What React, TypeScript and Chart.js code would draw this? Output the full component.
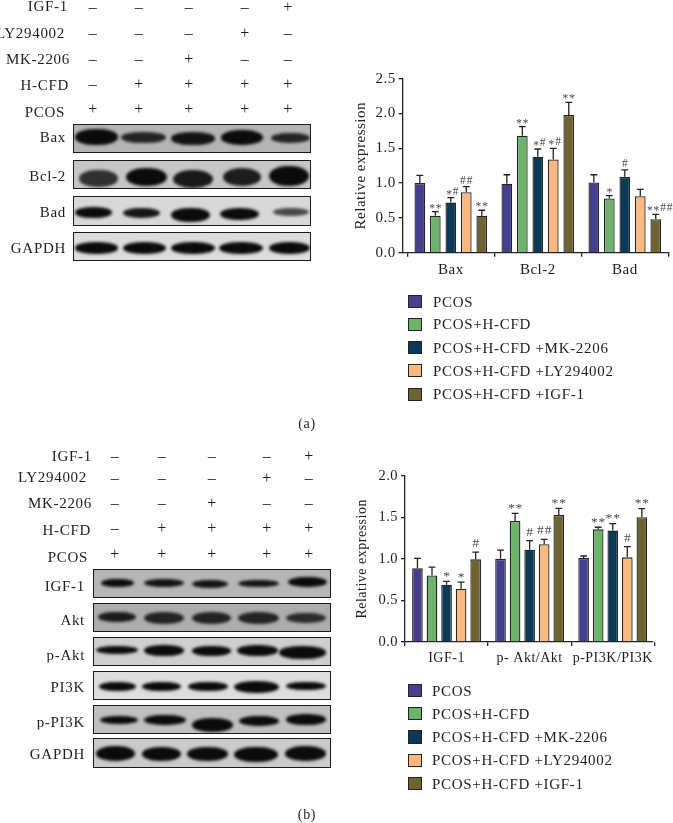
import React, { useEffect, useRef } from "react";
import { Chart, registerables } from "chart.js";

Chart.register(...registerables);

const seriesNames = ["PCOS", "PCOS+H-CFD", "PCOS+H-CFD +MK-2206", "PCOS+H-CFD +LY294002", "PCOS+H-CFD +IGF-1"];
const seriesColors = ["#443f8e", "#6db36c", "#0a3a57", "#fcb97f", "#6f6331"];

const categoriesA = ["Bax", "Bcl-2", "Bad"];
const pcosA = [1.0, 0.99, 1.01];
const hcfdA = [0.53, 1.68, 0.78];
const mkA = [0.72, 1.38, 1.09];
const lyA = [0.87, 1.34, 0.81];
const igfA = [0.53, 1.98, 0.48];
const pcosTopA = [1.11, 1.12, 1.12];
const hcfdTopA = [0.59, 1.81, 0.82];
const mkTopA = [0.79, 1.49, 1.19];
const lyTopA = [0.95, 1.5, 0.91];
const igfTopA = [0.61, 2.16, 0.55];
const pcosMarkA = ["", "", ""];
const hcfdMarkA = ["**", "**", "*"];
const mkMarkA = ["*#", "*#", "#"];
const lyMarkA = ["##", "*#", ""];
const igfMarkA = ["**", "**", "**##"];

const categoriesB = ["IGF-1", "p- Akt/Akt", "p-PI3K/PI3K"];
const pcosB = [0.886, 1.0, 1.01];
const hcfdB = [0.8, 1.455, 1.355];
const mkB = [0.69, 1.11, 1.34];
const lyB = [0.64, 1.175, 1.018];
const igfB = [0.994, 1.527, 1.5];
const pcosTopB = [1.006, 1.106, 1.034];
const hcfdTopB = [0.9, 1.547, 1.38];
const mkTopB = [0.73, 1.22, 1.423];
const lyTopB = [0.72, 1.234, 1.146];
const igfTopB = [1.08, 1.607, 1.603];
const pcosMarkB = ["", "", ""];
const hcfdMarkB = ["", "**", "**"];
const mkMarkB = ["*", "#", "**"];
const lyMarkB = ["*", "##", "#"];
const igfMarkB = ["#", "**", "**"];

const treatmentRows = ["IGF-1", "LY294002", "MK-2206", "H-CFD", "PCOS"];
const treatmentMarks = [
  ["–", "–", "–", "–", "+"],
  ["–", "–", "–", "+", "–"],
  ["–", "–", "+", "–", "–"],
  ["–", "+", "+", "+", "+"],
  ["+", "+", "+", "+", "+"],
];

const SERIF = '"Liberation Serif", serif';
const INK = "#232323";
const TEXT = "#1e1e1e";

type Band = [number, number, number, number, number];
type BlotDef = { name: string; labelY: number; y1: number; y2: number; bg: string; bands: Band[] };

// x1, x2, centre y, height, opacity: in units of one third of a pixel
const blotsA: BlotDef[] = [
  { name: "Bax", labelY: 410, y1: 371, y2: 460, bg: "#b4b4b4", bands: [
    [222, 350, 408, 46, 1], [360, 495, 410, 34, 0.85], [510, 642, 412, 38, 0.95], [660, 785, 410, 44, 1], [810, 928, 410, 30, 0.85] ] },
  { name: "Bcl-2", labelY: 527, y1: 480, y2: 568, bg: "#c6c6c6", bands: [
    [235, 350, 533, 52, 0.8], [375, 497, 528, 56, 1], [515, 637, 534, 54, 0.92], [665, 780, 528, 54, 0.9], [805, 925, 526, 60, 1] ] },
  { name: "Bad", labelY: 635, y1: 587, y2: 678, bg: "#d8d8d8", bands: [
    [222, 334, 634, 32, 1], [365, 478, 635, 30, 0.95], [510, 627, 642, 44, 1], [658, 775, 638, 36, 1], [815, 925, 634, 24, 0.7] ] },
  { name: "GAPDH", labelY: 745, y1: 695, y2: 783, bg: "#dcdcdc", bands: [
    [222, 350, 741, 34, 1], [365, 495, 741, 36, 1], [510, 642, 741, 36, 1], [655, 787, 741, 36, 1], [805, 928, 741, 36, 1] ] },
];

const blotsB: BlotDef[] = [
  { name: "IGF-1", labelY: 438, y1: 388, y2: 474, bg: "#b6b6b6", bands: [
    [300, 400, 426, 26, 1], [430, 548, 427, 24, 0.95], [572, 680, 428, 24, 0.95], [712, 835, 427, 21, 0.95], [860, 977, 423, 30, 1] ] },
  { name: "Akt", labelY: 541, y1: 488, y2: 576, bg: "#adadad", bands: [
    [290, 405, 528, 32, 0.9], [430, 548, 530, 36, 0.85], [572, 690, 530, 36, 0.85], [712, 835, 530, 36, 0.85], [855, 975, 530, 30, 0.8] ] },
  { name: "p-Akt", labelY: 645, y1: 591, y2: 678, bg: "#cfcfcf", bands: [
    [285, 410, 627, 24, 1], [430, 550, 628, 32, 1], [572, 690, 630, 28, 1], [707, 830, 629, 32, 1], [835, 975, 634, 38, 1] ] },
  { name: "PI3K", labelY: 742, y1: 692, y2: 780, bg: "#dedede", bands: [
    [295, 405, 736, 27, 1], [422, 540, 736, 28, 1], [560, 680, 736, 28, 1], [700, 835, 738, 36, 1], [855, 975, 735, 26, 1] ] },
  { name: "p-PI3K", labelY: 845, y1: 795, y2: 882, bg: "#bfbfbf", bands: [
    [298, 412, 837, 24, 1], [430, 555, 837, 30, 1], [572, 695, 852, 40, 1], [715, 835, 840, 30, 1], [855, 975, 836, 32, 1] ] },
  { name: "GAPDH", labelY: 942, y1: 895, y2: 985, bg: "#cbcbcb", bands: [
    [285, 402, 937, 44, 1], [422, 540, 938, 42, 1], [558, 680, 938, 42, 1], [700, 830, 940, 46, 1], [852, 975, 938, 44, 1] ] },
];

type PanelConfig = {
  left: number; top: number; width: number; height: number;
  areaLeft: number; areaRight: number; areaTop: number; areaBottom: number;
  axisLeftExt: number; axisRightTrim: number;
  categories: string[]; values: number[][]; tops: number[][]; marks: string[][];
  yMax: number; tickFont: number; xFont: number; titleFont: number; titlePad: number;
  catPct: number; barPct: number; markFont: number; markPitch: number; hashGap: number; starGap: number;
};

const panelA: PanelConfig = {
  left: 340, top: 60, width: 333, height: 240,
  areaLeft: 67.3, areaRight: 328.3, areaTop: 18.7, areaBottom: 192.7,
  axisLeftExt: 4.67, axisRightTrim: 0,
  categories: categoriesA,
  values: [pcosA, hcfdA, mkA, lyA, igfA],
  tops: [pcosTopA, hcfdTopA, mkTopA, lyTopA, igfTopA],
  marks: [pcosMarkA, hcfdMarkA, mkMarkA, lyMarkA, igfMarkA],
  yMax: 2.5, tickFont: 15, xFont: 15, titleFont: 15, titlePad: 17,
  catPct: 0.89, barPct: 0.69, markFont: 11.5, markPitch: 6.6, hashGap: 3, starGap: 3,
};

const panelB: PanelConfig = {
  left: 340, top: 450, width: 333, height: 240,
  areaLeft: 65, areaRight: 314.3, areaTop: 25.7, areaBottom: 192,
  axisLeftExt: 0, axisRightTrim: 2,
  categories: categoriesB,
  values: [pcosB, hcfdB, mkB, lyB, igfB],
  tops: [pcosTopB, hcfdTopB, mkTopB, lyTopB, igfTopB],
  marks: [pcosMarkB, hcfdMarkB, mkMarkB, lyMarkB, igfMarkB],
  yMax: 2.0, tickFont: 14.5, xFont: 14, titleFont: 14, titlePad: 14,
  catPct: 0.876, barPct: 0.73, markFont: 13.5, markPitch: 7.6, hashGap: 5, starGap: 5,
};

function PanelChart({ cfg }: { cfg: PanelConfig }) {
  const ref = useRef<HTMLCanvasElement | null>(null);
  useEffect(() => {
    if (!ref.current) return;
    const panelPlugin = {
      id: "panelExtras",
      afterLayout(chart: any) {
        const x = chart.scales.x;
        const y = chart.scales.y;
        y.left -= cfg.axisLeftExt;
        y.right -= cfg.axisLeftExt;
        x.left -= cfg.axisLeftExt;
        x.right -= cfg.axisRightTrim;
      },
      beforeDraw(chart: any) {
        chart.ctx.letterSpacing = "0.5px";
      },
      afterDatasetsDraw(chart: any) {
        const ctx = chart.ctx;
        const y = chart.scales.y;
        ctx.save();
        ctx.letterSpacing = "0px";
        ctx.strokeStyle = INK;
        ctx.lineWidth = 1.3;
        cfg.tops.forEach((tops, s) => {
          const meta = chart.getDatasetMeta(s);
          tops.forEach((top, i) => {
            const bar = meta.data[i];
            const py = y.getPixelForValue(top);
            ctx.beginPath();
            ctx.moveTo(bar.x, bar.y);
            ctx.lineTo(bar.x, py);
            ctx.moveTo(bar.x - 3.4, py);
            ctx.lineTo(bar.x + 3.4, py);
            ctx.stroke();
            const text = cfg.marks[s][i];
            if (!text) return;
            ctx.fillStyle = "#4a4a4a";
            ctx.font = `${cfg.markFont}px ${SERIF}`;
            ctx.textAlign = "center";
            ctx.textBaseline = "alphabetic";
            const shift = text.length > 2 ? 4 : text === "*#" ? 1.5 : 0;
            const startX = bar.x + shift - ((text.length - 1) * cfg.markPitch) / 2;
            Array.from(text).forEach((ch, k) => {
              const base = ch === "*" ? py - cfg.starGap + cfg.markFont * 0.26 : py - cfg.hashGap;
              ctx.fillText(ch, startX + k * cfg.markPitch, base);
            });
          });
        });
        ctx.restore();
      },
    };
    const chart = new Chart(ref.current, {
      type: "bar",
      data: {
        labels: cfg.categories,
        datasets: cfg.values.map((data, i) => ({
          label: seriesNames[i],
          data,
          backgroundColor: seriesColors[i],
          borderColor: INK,
          borderWidth: 1.3,
          categoryPercentage: cfg.catPct,
          barPercentage: cfg.barPct,
        })),
      },
      options: {
        animation: false,
        responsive: false,
        maintainAspectRatio: false,
        layout: {
          padding: { left: 0, top: cfg.areaTop, right: cfg.width - cfg.areaRight, bottom: 0 },
        },
        plugins: { legend: { display: false }, tooltip: { enabled: false }, title: { display: false } },
        scales: {
          x: {
            afterFit(scale: any) { scale.height = cfg.height - cfg.areaBottom; },
            grid: { drawOnChartArea: false, tickLength: 4, color: INK, lineWidth: 1.3 },
            border: { color: INK, width: 1.3 },
            ticks: { color: TEXT, font: { family: SERIF, size: cfg.xFont }, padding: 4, maxRotation: 0, autoSkip: false },
          },
          y: {
            min: 0,
            max: cfg.yMax,
            afterFit(scale: any) { scale.width = cfg.areaLeft; },
            grid: { drawOnChartArea: false, tickLength: 4, color: INK, lineWidth: 1.3 },
            border: { color: INK, width: 1.3 },
            ticks: {
              stepSize: 0.5,
              color: TEXT,
              font: { family: SERIF, size: cfg.tickFont },
              padding: 3,
              callback: (v: any) => Number(v).toFixed(1),
            },
            title: {
              display: true,
              text: "Relative expression",
              color: TEXT,
              font: { family: SERIF, size: cfg.titleFont },
              padding: { top: cfg.titlePad, bottom: 0 },
            },
          },
        },
      },
      plugins: [panelPlugin],
    } as any);
    return () => chart.destroy();
  }, [cfg]);
  return (
    <canvas
      ref={ref}
      width={cfg.width}
      height={cfg.height}
      style={{ position: "absolute", left: cfg.left, top: cfg.top, width: cfg.width, height: cfg.height }}
    />
  );
}

function Txt({ x, y, text, align = "right", size = 15 }: { x: number; y: number; text: string; align?: string; size?: number }) {
  const tx = align === "right" ? "-100%" : align === "center" ? "-50%" : "0";
  return (
    <div
      style={{
        position: "absolute", left: x, top: y, transform: `translate(${tx},-50%)`, willChange: "transform",
        font: `${size}px/1 ${SERIF}`, letterSpacing: "0.7px", color: TEXT, whiteSpace: "nowrap",
      }}
    >
      {text}
    </div>
  );
}

function Blot({ def, x1, x2, labelRight, offsetY }: { def: BlotDef; x1: number; x2: number; labelRight: number; offsetY: number }) {
  const top = offsetY + def.y1 / 3;
  const h = (def.y2 - def.y1) / 3;
  return (
    <>
      <Txt x={labelRight} y={offsetY + def.labelY / 3} text={def.name} />
      <div
        style={{
          position: "absolute", left: x1, top, width: x2 - x1, height: h, boxSizing: "border-box",
          border: "1px solid #1a1a1a", background: def.bg, overflow: "hidden",
        }}
      >
        {def.bands.map((b, i) => (
          <div
            key={i}
            style={{
              position: "absolute",
              left: b[0] / 3 - x1,
              top: (b[2] - b[3] / 2) / 3 + offsetY - top,
              width: (b[1] - b[0]) / 3,
              height: b[3] / 3,
              background: "#0b0b0b",
              opacity: b[4],
              borderRadius: "45% / 50%",
              filter: "blur(1.7px)",
            }}
          />
        ))}
      </div>
    </>
  );
}

function Legend({ swatchX, textX, ys }: { swatchX: number; textX: number; ys: number[] }) {
  return (
    <>
      {seriesNames.map((name, i) => (
        <React.Fragment key={name}>
          <div
            style={{
              position: "absolute", left: swatchX, top: ys[i] - 6.7, width: 13.4, height: 13.4, boxSizing: "border-box",
              background: seriesColors[i], border: `1.3px solid ${INK}`,
            }}
          />
          <Txt x={textX} y={ys[i]} text={name} align="left" size={15} />
        </React.Fragment>
      ))}
    </>
  );
}

function Treatments({ labelX, labelY, markX, markY }: { labelX: number[]; labelY: number[]; markX: number[]; markY: number[] }) {
  return (
    <>
      {treatmentRows.map((name, r) => (
        <React.Fragment key={name}>
          <Txt x={labelX[r]} y={labelY[r]} text={name} />
          {treatmentMarks[r].map((m, c) => (
            <Txt key={c} x={markX[c]} y={markY[r]} text={m} align="center" size={16} />
          ))}
        </React.Fragment>
      ))}
    </>
  );
}

export default function App() {
  return (
    <div style={{ position: "absolute", left: 0, top: 0, width: 673, height: 823, background: "#fff", overflow: "hidden" }}>
      <Treatments
        labelX={[68, 65, 70, 69, 65]}
        labelY={[6, 32.7, 59.3, 85, 111.7]}
        markX={[92.7, 139.3, 189.3, 245.3, 287.7]}
        markY={[6.7, 32.7, 59.3, 84, 108.7]}
      />
      {blotsA.map((d) => (
        <Blot key={d.name} def={d} x1={72.7} x2={311} labelRight={66} offsetY={0} />
      ))}
      <PanelChart cfg={panelA} />
      <Legend swatchX={408.3} textX={432.7} ys={[301.7, 324.3, 347.7, 370.7, 394.3]} />
      <Txt x={307} y={424} text="(a)" align="center" size={14} />

      <Treatments
        labelX={[91.7, 87.3, 91.7, 91, 87.7]}
        labelY={[456, 477.3, 503.3, 530, 556.7]}
        markX={[115, 161.7, 211.7, 266.7, 309.3]}
        markY={[456, 478.3, 503.3, 528.3, 554]}
      />
      {blotsB.map((d) => (
        <Blot key={d.name} def={d} x1={92.7} x2={330.7} labelRight={85} offsetY={440} />
      ))}
      <PanelChart cfg={panelB} />
      <Legend swatchX={408.3} textX={431.7} ys={[690.7, 713.7, 737, 760.3, 783.7]} />
      <Txt x={307} y={815} text="(b)" align="center" size={14} />
    </div>
  );
}
